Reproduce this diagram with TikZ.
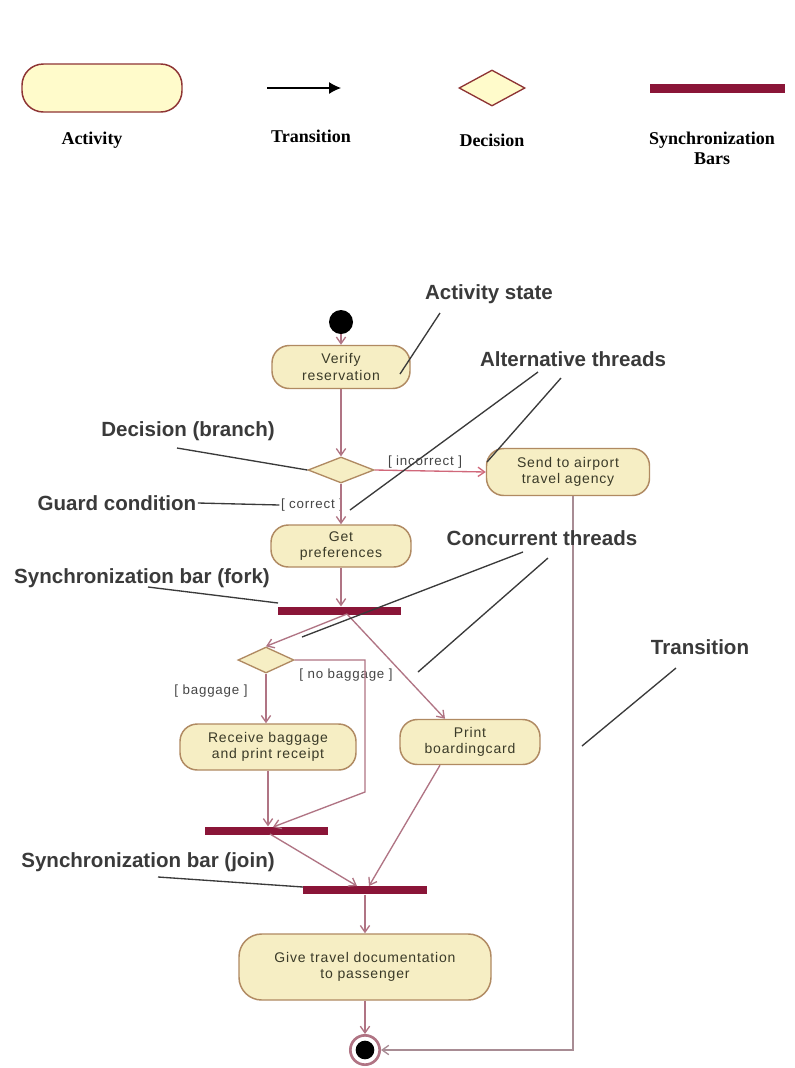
\documentclass[tikz,border=0pt]{standalone}
\usepackage{fontspec}
\setmainfont{Liberation Serif}
\setsansfont{Liberation Sans}
\newfontfamily\boxfont[LetterSpace=6]{Liberation Sans}
\usetikzlibrary{shapes.geometric,arrows.meta,calc}

\definecolor{actfill}{HTML}{F6EEC4}
\definecolor{actline}{HTML}{B08A62}
\definecolor{legfill}{HTML}{FFFBCB}
\definecolor{legline}{HTML}{8E3434}
\definecolor{conn}{HTML}{B07484}
\definecolor{altconn}{HTML}{D0687A}
\definecolor{sendconn}{HTML}{A88C94}
\definecolor{barcol}{HTML}{8A1538}
\definecolor{annot}{HTML}{3A3A3A}
\definecolor{boxtext}{HTML}{3A3A28}
\definecolor{guardtext}{HTML}{454545}

\begin{document}
\begin{tikzpicture}[x=0.75pt,y=-0.75pt,
  act/.style={draw=actline, fill=actfill, line width=1.1pt, rounded corners=13pt,
    inner sep=0pt, align=center, text=boxtext,
    font=\boxfont\fontsize{10.5}{12.5}\selectfont},
  decision/.style={diamond, draw=actline, fill=actfill, line width=1pt, inner sep=0pt},
  syncbar/.style={rectangle, fill=barcol, draw=none, inner sep=0pt, minimum height=6.5pt},
  flow/.style={draw=conn, line width=1pt, -{Straight Barb[length=5pt,width=7pt]}},
  guard/.style={text=guardtext, inner sep=1pt, font=\boxfont\fontsize{10}{12}\selectfont},
  note/.style={text=annot, inner sep=1pt, font=\sffamily\bfseries\fontsize{15.4}{18}\selectfont},
  noteline/.style={draw=annot, line width=1pt},
  legendlbl/.style={text=black, inner sep=1pt, align=center,
    font=\rmfamily\bfseries\fontsize{13.5}{15}\selectfont}]

\useasboundingbox[fill=white] (0,0) rectangle (794,1068);

% ---------- legend ----------
\node[act, fill=legfill, draw=legline, rounded corners=16pt,
  minimum width=120pt, minimum height=36pt] (legact) at (102,88) {};
\node[legendlbl] (legactlbl) at (92,140) {Activity};

\coordinate (legtrA) at (267,88);
\coordinate (legtrB) at (341,88);
\draw[line width=0.8pt, -{Latex[length=9pt,width=9pt]}] (legtrA) -- (legtrB);
\node[legendlbl] (legtrlbl) at (311,136) {Transition};

\node[decision, fill=legfill, draw=legline, minimum width=49.5pt,
  minimum height=27pt] (legdec) at (492,88) {};
\node[legendlbl] (legdeclbl) at (492,140) {Decision};

\node[syncbar, minimum width=101.25pt, minimum height=6.75pt] (legbar) at (717,88) {};
\node[legendlbl] (legbarlbl) at (712,148) {Synchronization\\Bars};

% ---------- activity diagram ----------
\node[circle, fill=black, inner sep=0pt, minimum size=18pt] (start) at (341,322) {};
\node[act, minimum width=103.5pt, minimum height=32.25pt] (verify) at (341,367)
  {Verify\\reservation};
\node[decision, minimum width=49.5pt, minimum height=19.5pt] (dec1) at (341,470) {};
\node[act, minimum width=122.25pt, minimum height=35.25pt] (send) at (568,472)
  {Send to airport\\travel agency};
\node[act, minimum width=105pt, minimum height=31.5pt] (getpref) at (341,546)
  {Get\\preferences};
\node[syncbar, minimum width=92.25pt] (fork) at (339,611) {};
\node[decision, minimum width=42pt, minimum height=19.5pt] (dec2) at (266,660) {};
\node[act, minimum width=132pt, minimum height=34.5pt] (receive) at (268,747)
  {Receive baggage\\and print receipt};
\node[act, minimum width=105pt, minimum height=33.75pt] (print) at (470,742)
  {Print\\boardingcard};
\node[syncbar, minimum width=92.25pt] (join1) at (266,831) {};
\node[syncbar, minimum width=93pt] (join2) at (365,890) {};
\node[act, minimum width=189pt, minimum height=49.5pt, rounded corners=17pt] (give)
  at (365,967) {Give travel documentation\\to passenger};
\node[circle, draw=conn, fill=white, line width=2pt, inner sep=0pt,
  minimum size=22pt] (final) at (365,1050) {};
\node[circle, fill=black, inner sep=0pt, minimum size=14pt] (finaldot) at (365,1050) {};

% guard labels
\node[guard] (gincorrect) at (425,462) {[ incorrect ]};
\node[guard] (gcorrect) at (312,505) {[ correct ]};
\node[guard] (gbaggage) at (211,691) {[ baggage ]};
\node[guard] (gnobag) at (346,675) {[ no baggage ]};

% transitions
\draw[flow] (start) -- (verify);
\draw[flow] (verify) -- (dec1);
\draw[flow, draw=altconn] (dec1.east) -- (send.west);
\draw[flow] (dec1) -- (getpref);
\draw[flow] (getpref.south) -- (getpref.south |- fork.north);

\coordinate (forkout) at (347,614);
\draw[flow] (forkout) -- (dec2.north);
\draw[flow] (forkout) -- ($(print.north)+(-25,0)$);

\draw[flow] (dec2.south) -- (dec2.south |- receive.north);
\coordinate (nbcorner) at (365,792);
\coordinate (join1in) at (273,827);
\draw[flow] (dec2.east) -| (nbcorner) -- (join1in);
\draw[flow] (receive.south) -- (receive.south |- join1.north);

\coordinate (join1out) at (270,834);
\coordinate (join2inA) at (357,886);
\coordinate (join2inB) at (369,886);
\draw[flow] (join1out) -- (join2inA);
\draw[flow] ($(print.south)+(-30,0)$) -- (join2inB);
\draw[flow] (join2.south) -- (give.north);
\draw[flow] (give.south) -- (final.north);
\draw[flow, draw=sendconn] ($(send.south)+(5,0)$) |- (final.east);

% ---------- annotations ----------
\node[note] (nactstate) at (489,294) {Activity state};
\node[note] (nalt) at (573,359) {Alternative threads};
\node[note] (ndecision) at (188,431) {Decision (branch)};
\node[note] (nguard) at (117,503) {Guard condition};
\node[note] (nfork) at (142,578) {Synchronization bar (fork)};
\node[note] (nconc) at (542,538) {Concurrent threads};
\node[note] (ntrans) at (700,647) {Transition};
\node[note] (njoin) at (148,862) {Synchronization bar (join)};

\coordinate (aActA) at (440,313);
\coordinate (aActB) at (400,374);
\draw[noteline] (aActA) -- (aActB);

\coordinate (aAltA) at (538,372);
\coordinate (aAltB) at (350,510);
\coordinate (aAltC) at (561,378);
\coordinate (aAltD) at (487,462);
\draw[noteline] (aAltA) -- (aAltB);
\draw[noteline] (aAltC) -- (aAltD);

\coordinate (aDecA) at (177,448);
\draw[noteline] (aDecA) -- (dec1.west);

\draw[noteline] (nguard.east) -- (gcorrect.west);

\coordinate (aForkA) at (148,587);
\coordinate (aForkB) at (278,603);
\draw[noteline] (aForkA) -- (aForkB);

\coordinate (aConcA) at (523,552);
\coordinate (aConcB) at (302,637);
\coordinate (aConcC) at (548,558);
\coordinate (aConcD) at (418,672);
\draw[noteline] (aConcA) -- (aConcB);
\draw[noteline] (aConcC) -- (aConcD);

\coordinate (aTrA) at (676,668);
\coordinate (aTrB) at (582,746);
\draw[noteline] (aTrA) -- (aTrB);

\coordinate (aJoinA) at (158,877);
\coordinate (aJoinB) at (303,887);
\draw[noteline] (aJoinA) -- (aJoinB);

\end{tikzpicture}
\end{document}
